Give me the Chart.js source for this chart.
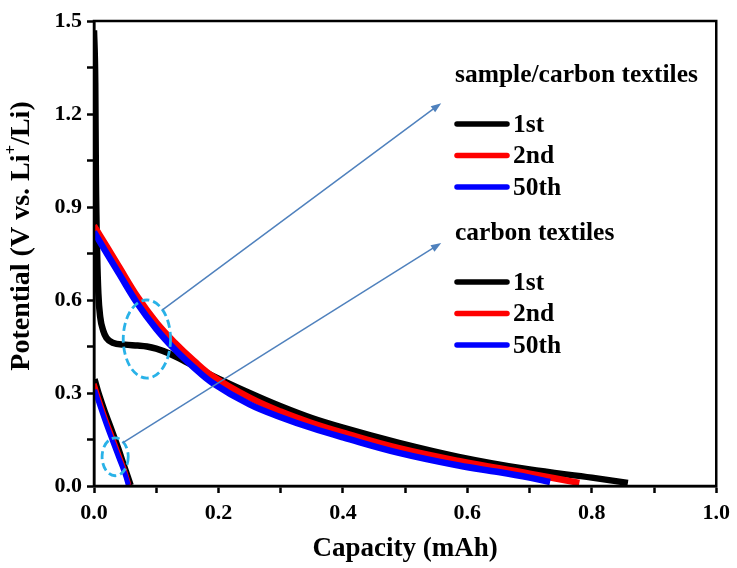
<!DOCTYPE html>
<html>
<head>
<meta charset="utf-8">
<script src="https://cdn.jsdelivr.net/npm/chart.js@4.4.0/dist/chart.umd.min.js"></script>
<style>
body { margin: 0; background: #fff; }
#wrap { width: 737px; height: 568px; }
</style>
</head>
<body>
<div id="wrap"><canvas id="chart" width="737" height="568"></canvas></div>
<script>
// --- sample/carbon textiles ---
const sCap1st = [0, 0.002, 0.003, 0.005, 0.007, 0.01, 0.015, 0.02, 0.03, 0.05, 0.07, 0.085, 0.1, 0.12, 0.15, 0.19, 0.25, 0.3, 0.35, 0.4, 0.49, 0.586, 0.7, 0.8, 0.858];
const sPot1st = [1.47, 1.3, 1.0, 0.75, 0.62, 0.545, 0.5, 0.478, 0.462, 0.456, 0.453, 0.45, 0.443, 0.428, 0.398, 0.356, 0.3, 0.257, 0.219, 0.188, 0.139, 0.094, 0.053, 0.027, 0.01];
const sCap2nd = [0, 0.02, 0.04, 0.07, 0.1, 0.13, 0.16, 0.19, 0.25, 0.3, 0.35, 0.4, 0.49, 0.586, 0.7, 0.78];
const sPot2nd = [0.84, 0.774, 0.708, 0.61, 0.528, 0.462, 0.405, 0.355, 0.285, 0.24, 0.203, 0.172, 0.122, 0.081, 0.04, 0.01];
const sCap50th = [0, 0.02, 0.04, 0.07, 0.1, 0.13, 0.16, 0.19, 0.25, 0.3, 0.35, 0.4, 0.49, 0.586, 0.65, 0.7, 0.733];
const sPot50th = [0.82, 0.752, 0.686, 0.588, 0.507, 0.44, 0.383, 0.333, 0.263, 0.222, 0.187, 0.157, 0.107, 0.066, 0.045, 0.027, 0.013];

// --- carbon textiles ---
const cCap1st = [0.002, 0.01, 0.02, 0.03, 0.04, 0.05, 0.06];
const cPot1st = [0.345, 0.29, 0.232, 0.178, 0.122, 0.062, 0.003];
const cCap2nd = [0.001, 0.01, 0.02, 0.03, 0.04, 0.05, 0.057];
const cPot2nd = [0.33, 0.272, 0.213, 0.16, 0.105, 0.05, 0.003];
const cCap50th = [0.001, 0.01, 0.02, 0.03, 0.04, 0.05, 0.055];
const cPot50th = [0.31, 0.255, 0.197, 0.143, 0.09, 0.037, 0.003];

const cycleLabels = ['1st', '2nd', '50th'];
const cycleColors = ['#000000', '#ff0000', '#0000ff'];
const groupTitles = ['sample/carbon textiles', 'carbon textiles'];

// callouts (data coords): ellipse centre, radii, arrow from/to
const ellipses = [
    { cx: 0.085, cy: 0.474, rx: 0.038, ry: 0.126 },
    { cx: 0.034, cy: 0.094, rx: 0.021, ry: 0.061 }
];
const arrows = [
    { x0: 0.110, y0: 0.568, x1: 0.558, y1: 1.235 },
    { x0: 0.046, y0: 0.139, x1: 0.558, y1: 0.784 }
];

const FONT = "'Liberation Serif', 'Times New Roman', serif";

function pts(xs, ys) { return xs.map((x, i) => ({ x, y: ys[i] })); }

function makeSet(label, xs, ys, color, width, order, mono) {
    return {
        label, data: pts(xs, ys), borderColor: color, backgroundColor: color,
        borderWidth: width, pointRadius: 0, showLine: true, fill: false,
        cubicInterpolationMode: mono ? 'monotone' : 'default', tension: 0.4, order
    };
}

const datasets = [
    makeSet('s1', sCap1st, sPot1st, cycleColors[0], 6.5, 3, true),
    makeSet('s2', sCap2nd, sPot2nd, cycleColors[1], 6.5, 2),
    makeSet('s50', sCap50th, sPot50th, cycleColors[2], 6.5, 1),
    makeSet('c1', cCap1st, cPot1st, cycleColors[0], 5, 6),
    makeSet('c2', cCap2nd, cPot2nd, cycleColors[1], 4, 5),
    makeSet('c50', cCap50th, cPot50th, cycleColors[2], 5, 4)
];

// frame, y title with superscript, legend groups, callouts
const decor = {
    id: 'decor',
    afterDraw(chart) {
        const ctx = chart.ctx, a = chart.chartArea;
        const xs = chart.scales.x, ys = chart.scales.y;
        ctx.save();

        // callouts
        ctx.strokeStyle = '#29b2e8';
        ctx.lineWidth = 2.8;
        ctx.setLineDash([8, 4]);
        ellipses.forEach(e => {
            const cx = xs.getPixelForValue(e.cx), cy = ys.getPixelForValue(e.cy);
            const rx = xs.getPixelForValue(e.cx + e.rx) - cx, ry = cy - ys.getPixelForValue(e.cy + e.ry);
            ctx.beginPath();
            ctx.ellipse(cx, cy, rx, ry, 0, 0, Math.PI * 2);
            ctx.stroke();
        });
        ctx.setLineDash([]);
        ctx.strokeStyle = '#4f81bd';
        ctx.fillStyle = '#4f81bd';
        ctx.lineWidth = 1.5;
        arrows.forEach(r => {
            const x0 = xs.getPixelForValue(r.x0), y0 = ys.getPixelForValue(r.y0);
            const x1 = xs.getPixelForValue(r.x1), y1 = ys.getPixelForValue(r.y1);
            const ang = Math.atan2(y1 - y0, x1 - x0);
            ctx.beginPath(); ctx.moveTo(x0, y0); ctx.lineTo(x1 - 6 * Math.cos(ang), y1 - 6 * Math.sin(ang)); ctx.stroke();
            ctx.beginPath();
            ctx.moveTo(x1, y1);
            ctx.lineTo(x1 - 11 * Math.cos(ang - 0.35), y1 - 11 * Math.sin(ang - 0.35));
            ctx.lineTo(x1 - 11 * Math.cos(ang + 0.35), y1 - 11 * Math.sin(ang + 0.35));
            ctx.closePath(); ctx.fill();
        });

        // frame
        ctx.strokeStyle = '#000';
        ctx.lineWidth = 2.5;
        ctx.strokeRect(a.left, a.top, a.right - a.left, a.bottom - a.top);

        // legend
        ctx.fillStyle = '#000';
        ctx.textBaseline = 'middle';
        ctx.textAlign = 'left';
        ctx.font = 'bold 25.5px ' + FONT;
        const lx = 455, groupTop = [75, 233], rowGap = 31.5;
        groupTitles.forEach((t, g) => {
            ctx.fillStyle = '#000';
            ctx.fillText(t, lx, groupTop[g]);
            cycleLabels.forEach((lab, i) => {
                const y = groupTop[g] + 49 + i * rowGap;
                ctx.strokeStyle = cycleColors[i];
                ctx.lineWidth = 5.5;
                ctx.lineCap = 'round';
                ctx.beginPath(); ctx.moveTo(lx + 2, y); ctx.lineTo(lx + 52, y); ctx.stroke();
                ctx.fillStyle = '#000';
                ctx.fillText(lab, lx + 58, y + 1);
            });
        });

        // y title with Li+ superscript
        ctx.translate(22, 236);
        ctx.rotate(-Math.PI / 2);
        const big = 'bold 28px ' + FONT, small = 'bold 17px ' + FONT;
        const p1 = 'Potential (V vs. Li', p2 = '+', p3 = '/Li)';
        ctx.font = big; const w1 = ctx.measureText(p1).width, w3 = ctx.measureText(p3).width;
        ctx.font = small; const w2 = ctx.measureText(p2).width;
        let x = -(w1 + w2 + w3) / 2;
        ctx.fillStyle = '#000';
        ctx.textBaseline = 'middle';
        ctx.font = big; ctx.fillText(p1, x, 0); x += w1;
        ctx.font = small; ctx.fillText(p2, x, -10); x += w2;
        ctx.font = big; ctx.fillText(p3, x, 0);
        ctx.restore();
    }
};

new Chart(document.getElementById('chart'), {
    type: 'scatter',
    data: { datasets },
    options: {
        responsive: false,
        animation: false,
        layout: { padding: { top: 21, right: 18, left: 0, bottom: 0 } },
        plugins: { legend: { display: false }, tooltip: { enabled: false } },
        scales: {
            x: {
                type: 'linear', min: 0, max: 1,
                afterFit: s => { s.height = 82; },
                grid: { drawOnChartArea: false, tickLength: 7, tickWidth: 2.5, tickColor: '#000' },
                border: { display: true, color: '#000', width: 2.5 },
                ticks: {
                    stepSize: 0.1, autoSkip: false, maxRotation: 0, padding: 7, color: '#000',
                    font: { family: FONT, size: 22, weight: 'bold' },
                    callback: v => Math.round(v * 10) % 2 === 0 ? v.toFixed(1) : ''
                },
                title: {
                    display: true, text: 'Capacity (mAh)', color: '#000',
                    font: { family: FONT, size: 27, weight: 'bold' },
                    padding: { top: 0, bottom: 3 }
                }
            },
            y: {
                type: 'linear', min: 0, max: 1.5,
                afterFit: s => { s.width = 94; },
                grid: { drawOnChartArea: false, tickLength: 7, tickWidth: 2.5, tickColor: '#000' },
                border: { display: true, color: '#000', width: 2.5 },
                ticks: {
                    stepSize: 0.15, autoSkip: false, padding: 5, color: '#000',
                    font: { family: FONT, size: 22, weight: 'bold' },
                    callback: v => Math.round(v * 100) % 30 === 0 ? v.toFixed(1) : ''
                }
            }
        }
    },
    plugins: [decor]
});
</script>
</body>
</html>
